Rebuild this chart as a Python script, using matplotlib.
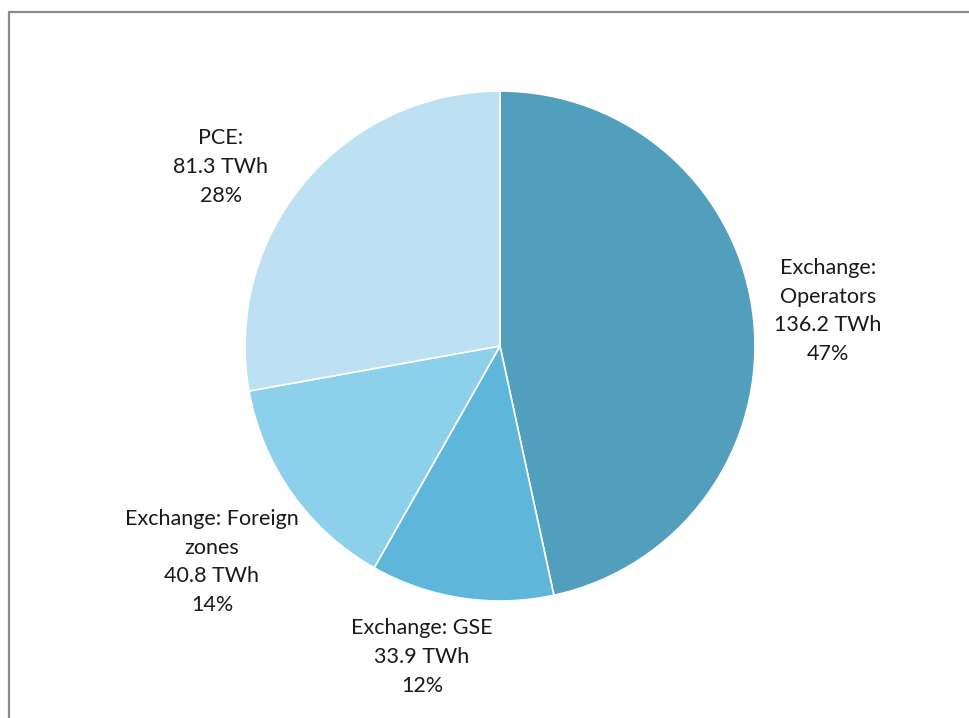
import matplotlib
matplotlib.use("Agg")
import matplotlib.pyplot as plt
from matplotlib.patches import Rectangle

categories = ["Exchange:\nOperators", "Exchange: GSE", "Exchange: Foreign\nzones", "PCE:"]
values_twh = [136.2, 33.9, 40.8, 81.3]
percent_labels = ["47%", "12%", "14%", "28%"]
colors = ["#519fbd", "#5eb7da", "#8dd0ec", "#bde1f2"]

W, H = 970, 718
fig = plt.figure(figsize=(W / 100, H / 100), dpi=100)
ax = fig.add_axes([0, 0, 1, 1])

cx, cy, r = 500, H - 346, 255
ax.pie(values_twh, colors=colors, startangle=90, counterclock=False,
       center=(cx, cy), radius=r, frame=True,
       wedgeprops=dict(edgecolor="white", linewidth=1.2))
ax.set_xlim(0, W)
ax.set_ylim(0, H)
ax.set_aspect("auto")
ax.axis("off")

label_pos = [(828, H - 311), (422, H - 657), (212, H - 562), (221, H - 167)]
for cat, v, p, (x, y) in zip(categories, values_twh, percent_labels, label_pos):
    ax.text(x, y, f"{cat}\n{v:.1f} TWh\n{p}", ha="center", va="center",
            fontsize=15.5, family=["Lato", "DejaVu Sans"], color="#1a1a1a",
            linespacing=1.55)

ax.add_patch(Rectangle((9.5, -20), 1100, H - 11.5 + 20, fill=False,
                       edgecolor="#8c8c8c", linewidth=1.6, clip_on=True))

fig.savefig("out.png", dpi=100)
